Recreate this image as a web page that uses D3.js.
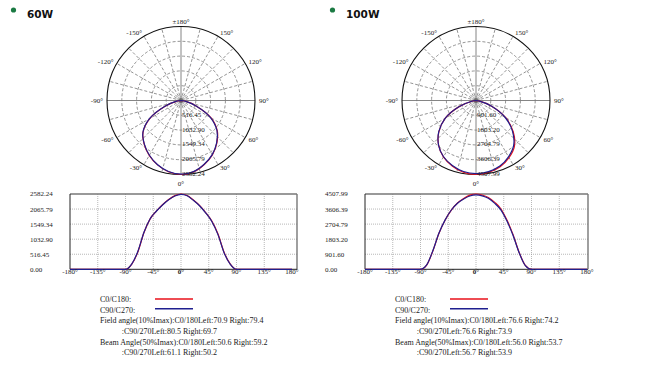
<!DOCTYPE html>
<html>
<head>
<meta charset="utf-8">
<script src="https://cdn.jsdelivr.net/npm/d3@7"></script>
<style>
  body { margin: 0; background: #fff; }
  text { font-family: "Liberation Serif", "Times New Roman", serif; fill: #222; }
</style>
</head>
<body>
<div id="chart"></div>
<script>
// Angles (degrees) where the intensity curves were read
var angles = [-180, -90, -80, -70, -60, -50, -40, -30, -20, -10, 0, 10, 20, 30, 40, 50, 60, 70, 80, 90, 180];

// 60W intensity (cd)
var c0_60W  = [0, 0, 170, 590, 1260, 1730, 1995, 2215, 2390, 2525, 2582, 2530, 2375, 2190, 1945, 1655, 1210, 575, 180, 0, 0];
var c90_60W = [0, 0, 180, 610, 1270, 1735, 1990, 2205, 2385, 2515, 2572, 2520, 2365, 2180, 1935, 1640, 1190, 560, 170, 0, 0];

// 100W intensity (cd)
var c0_100W  = [0, 0, 250, 1090, 2157, 2950, 3545, 3970, 4240, 4440, 4508, 4450, 4300, 4020, 3640, 2960, 2090, 1010, 230, 0, 0];
var c90_100W = [0, 0, 260, 1110, 2170, 2960, 3550, 3955, 4210, 4390, 4450, 4400, 4250, 3960, 3570, 2900, 2040, 990, 220, 0, 0];

// Tick labels
var ticks60W  = [0, 516.45, 1032.90, 1549.34, 2065.79, 2582.24];
var ticks100W = [0, 901.60, 1803.20, 2704.79, 3606.39, 4507.99];
var xTicks = [-180, -135, -90, -45, 0, 45, 90, 135, 180];
var polarLabels = [0, 30, 60, 90, 120, 150, 180, -150, -120, -90, -60, -30];

// Legend / angle text
var legend60W = [
  "Field angle(10%Imax):C0/180Left:70.9 Right:79.4",
  ":C90/270Left:80.5 Right:69.7",
  "Beam Angle(50%Imax):C0/180Left:50.6 Right:59.2",
  ":C90/270Left:61.1 Right:50.2"
];
var legend100W = [
  "Field angle(10%Imax):C0/180Left:76.6 Right:74.2",
  ":C90/270Left:76.6 Right:73.9",
  "Beam Angle(50%Imax):C0/180Left:56.0 Right:53.7",
  ":C90/270Left:56.7 Right:53.9"
];

var panels = [
  {title: "60W",  ox: 0,   tx: 0,   c0: c0_60W,  c90: c90_60W,  ticks: ticks60W,  legend: legend60W,  frameExtra: 5},
  {title: "100W", ox: 295, tx: 319, c0: c0_100W, c90: c90_100W, ticks: ticks100W, legend: legend100W, frameExtra: 1}
];

var RED = "#e8101a", BLUE = "#1f1f8f";

var svg = d3.select("#chart")
  .append("svg")
    .attr("width", 650)
    .attr("height", 375);

svg.append("rect").attr("width", 650).attr("height", 375).attr("fill", "#fff");

panels.forEach(function(p) {
  var max = p.ticks[p.ticks.length - 1];

  // Title with green bullet
  svg.append("circle")
      .attr("cx", p.tx + 13.5).attr("cy", 10).attr("r", 2.6)
      .attr("fill", "#1b7a43");
  svg.append("text")
      .attr("x", p.tx + 27).attr("y", 17.5)
      .style("font-family", "'DejaVu Sans', sans-serif")
      .style("font-weight", "bold")
      .style("font-size", "10.5px")
      .style("fill", "#111")
      .text(p.title);

  // ---------- Polar chart ----------
  var cx = p.ox + 181, cy = 100.5, R = 74;
  var pg = svg.append("g").attr("transform", "translate(" + cx + "," + cy + ")");
  var r = d3.scaleLinear().domain([0, max]).range([0, R]);

  // rings
  pg.selectAll(".ring")
    .data(p.ticks.slice(1, -1))
    .enter().append("circle")
      .attr("r", function(d) { return r(d); })
      .attr("fill", "none")
      .attr("stroke", "#666")
      .attr("stroke-width", 0.7)
      .attr("stroke-dasharray", "3,2");
  // tiny rings near the centre
  [2, 4].forEach(function(rr) {
    pg.append("circle").attr("r", rr).attr("fill", "none")
      .attr("stroke", "#999").attr("stroke-width", 0.6);
  });

  // spokes every 15 degrees
  d3.range(0, 360, 15).forEach(function(a) {
    var t = a * Math.PI / 180;
    var main = a % 90 === 0;
    pg.append("line")
      .attr("x1", 0).attr("y1", 0)
      .attr("x2", R * Math.sin(t)).attr("y2", R * Math.cos(t))
      .attr("stroke", main ? "#777" : "#666")
      .attr("stroke-width", main ? 0.9 : 0.7)
      .attr("stroke-dasharray", main ? null : "3,2");
  });

  // outer circle
  pg.append("circle").attr("r", R)
    .attr("fill", "none").attr("stroke", "#111").attr("stroke-width", 1.1);

  // curves
  var polarPts = function(vals) {
    return angles.map(function(a, i) { return [a, vals[i]]; })
      .filter(function(d) { return Math.abs(d[0]) <= 90; });
  };
  var radial = d3.lineRadial()
    .angle(function(d) { return Math.PI - d[0] * Math.PI / 180; })
    .radius(function(d) { return r(d[1]); })
    .curve(d3.curveCatmullRom);
  pg.append("path").datum(polarPts(p.c0))
    .attr("d", radial).attr("fill", "none").attr("stroke", RED).attr("stroke-width", 1.2);
  pg.append("path").datum(polarPts(p.c90))
    .attr("d", radial).attr("fill", "none").attr("stroke", BLUE).attr("stroke-width", 1.2);

  // ring value labels along 0 axis
  pg.selectAll(".rlab")
    .data(p.ticks.slice(1))
    .enter().append("text")
      .attr("x", 1)
      .attr("y", function(d) { return r(d) - 1; })
      .attr("dy", "0.35em")
      .style("font-size", "7px")
      .text(function(d) { return d.toFixed(2); });

  // angle labels
  pg.selectAll(".alab")
    .data(polarLabels)
    .enter().append("text")
      .attr("x", function(d) { return (R + 4) * Math.sin(d * Math.PI / 180); })
      .attr("y", function(d) {
        if (d === 0) return R + 9;
        if (d === 180) return -R - 5;
        return (R + 4) * Math.cos(d * Math.PI / 180);
      })
      .attr("dy", function(d) { return (d === 0 || d === 180) ? "0.35em" : "0.35em"; })
      .attr("text-anchor", function(d) {
        if (d === 0 || d === 180) return "middle";
        return d < 0 ? "end" : "start";
      })
      .style("font-size", "7px")
      .text(function(d) { return (d === 180 ? "\u00b1180" : d) + "\u00b0"; });

  // ---------- Linear chart ----------
  var x0 = p.ox + 70, x1 = p.ox + 292, yTop = 194, yBot = 269.3;
  var x = d3.scaleLinear().domain([-180, 180]).range([x0, x1]);
  var y = d3.scaleLinear().domain([0, max]).range([yBot, yTop]);
  var lg = svg.append("g");

  // grid
  lg.selectAll(".vg")
    .data(xTicks.slice(1, -1))
    .enter().append("line")
      .attr("x1", function(d) { return x(d); }).attr("x2", function(d) { return x(d); })
      .attr("y1", yTop).attr("y2", yBot)
      .attr("stroke", "#999").attr("stroke-width", 0.7).attr("stroke-dasharray", "1,1");
  lg.selectAll(".hg")
    .data(p.ticks.slice(1, -1))
    .enter().append("line")
      .attr("x1", x0).attr("x2", x1 + p.frameExtra)
      .attr("y1", function(d) { return y(d); }).attr("y2", function(d) { return y(d); })
      .attr("stroke", "#999").attr("stroke-width", 0.7).attr("stroke-dasharray", "1,1");

  // frame
  lg.append("line").attr("x1", x0).attr("x2", x1 + p.frameExtra).attr("y1", yTop).attr("y2", yTop)
    .attr("stroke", "#777").attr("stroke-width", 1.6);
  lg.append("line").attr("x1", x1 + p.frameExtra).attr("x2", x1 + p.frameExtra).attr("y1", yTop).attr("y2", yBot)
    .attr("stroke", "#777").attr("stroke-width", 1.4);
  lg.append("line").attr("x1", x0).attr("x2", x0).attr("y1", yTop).attr("y2", yBot)
    .attr("stroke", "#222").attr("stroke-width", 1);
  lg.append("line").attr("x1", x0).attr("x2", x1 + p.frameExtra).attr("y1", yBot).attr("y2", yBot)
    .attr("stroke", "#222").attr("stroke-width", 1);

  // curves
  var line = d3.line()
    .x(function(d, i) { return x(angles[i]); })
    .y(function(d) { return y(d); })
    .curve(d3.curveMonotoneX);
  lg.append("path").datum(p.c0)
    .attr("d", line).attr("fill", "none").attr("stroke", RED).attr("stroke-width", 1.2);
  lg.append("path").datum(p.c90)
    .attr("d", line).attr("fill", "none").attr("stroke", BLUE).attr("stroke-width", 1.2);

  // y labels (left aligned)
  lg.selectAll(".yl")
    .data(p.ticks)
    .enter().append("text")
      .attr("x", p.ox + 30)
      .attr("y", function(d) { return y(d); })
      .attr("dy", "0.35em")
      .style("font-size", "7px")
      .text(function(d) { return d.toFixed(2); });

  // x labels
  lg.selectAll(".xl")
    .data(xTicks)
    .enter().append("text")
      .attr("x", function(d) { return x(d); })
      .attr("y", yBot + 2.5)
      .attr("dy", "0.35em")
      .attr("text-anchor", "middle")
      .style("font-size", "7px")
      .style("font-weight", function(d) { return d === 0 ? "bold" : null; })
      .text(function(d) { return d + "\u00b0"; });

  // ---------- Legend ----------
  var lx = p.ox + 100;
  var rows = [299, 309.7, 320.3, 331, 341.7, 352.3];
  svg.append("text").attr("x", lx).attr("y", rows[0]).attr("dy", "0.35em")
    .style("font-size", "8px").text("C0/C180:");
  svg.append("line").attr("x1", p.ox + 155).attr("x2", p.ox + 193)
    .attr("y1", rows[0]).attr("y2", rows[0]).attr("stroke", RED).attr("stroke-width", 1.6);
  svg.append("text").attr("x", lx).attr("y", rows[1]).attr("dy", "0.35em")
    .style("font-size", "8px").text("C90/C270:");
  svg.append("line").attr("x1", p.ox + 155).attr("x2", p.ox + 193)
    .attr("y1", rows[1] - 1).attr("y2", rows[1] - 1).attr("stroke", BLUE).attr("stroke-width", 1.6);

  p.legend.forEach(function(t, i) {
    svg.append("text")
      .attr("x", t.charAt(0) === ":" ? lx + 21.7 : lx)
      .attr("y", rows[i + 2]).attr("dy", "0.35em")
      .style("font-size", "8px")
      .text(t);
  });
});
</script>
</body>
</html>
